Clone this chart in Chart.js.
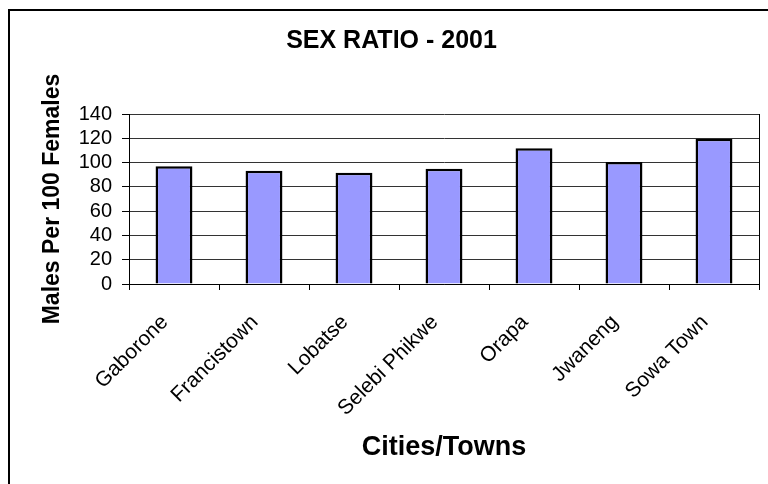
<!DOCTYPE html>
<html>
<head>
<meta charset="utf-8">
<script src="https://cdn.jsdelivr.net/npm/chart.js@4"></script>
<style>
  body { margin: 0; background: #fff; }
  #wrap { position: relative; width: 768px; height: 484px; overflow: hidden; }
  #frame { position: absolute; left: 8px; top: 9px; width: 800px; height: 500px;
           border-left: 2px solid #000; border-top: 2px solid #000; }
  canvas { position: absolute; left: 0; top: 0; }
</style>
</head>
<body>
<div id="wrap">
  <div id="frame"></div>
  <canvas id="grafico" width="768" height="484"></canvas>
</div>
<script>
// data
const cidades = ['Gaborone', 'Francistown', 'Lobatse', 'Selebi Phikwe', 'Orapa', 'Jwaneng', 'Sowa Town'];
const razao = [97, 93.3, 91.7, 95, 111.7, 100.5, 119.7];
const yTicks = [0, 20, 40, 60, 80, 100, 120, 140];

const fonte = 'Arial, "Liberation Sans", sans-serif';

const ctx = document.getElementById('grafico').getContext('2d');
const grafico = new Chart(ctx, {
    type: 'bar',
    data: {
        labels: cidades,
        datasets: [{
            label: 'Sex ratio',
            data: razao,
            backgroundColor: '#9999FF',
            borderColor: '#000',
            borderWidth: 2.5,
            categoryPercentage: 1,
            barPercentage: 0.41
        }]
    },
    options: {
        responsive: false,
        animation: false,
        // left padding shifts the title centre to match the original
        layout: { padding: { left: 24, right: 9, top: 0, bottom: 0 } },
        plugins: {
            legend: { display: false },
            tooltip: { enabled: false },
            title: {
                display: true,
                text: 'SEX RATIO - 2001',
                color: '#000',
                font: { family: fonte, size: 25, weight: 'bold', lineHeight: 1.2 },
                padding: { top: 26, bottom: 58 }
            }
        },
        scales: {
            x: {
                offset: true,
                grid: {
                    offset: true,
                    drawOnChartArea: true,
                    color: c => c.index === undefined ? '#000' : 'rgba(0,0,0,0)',
                    tickColor: '#000',
                    tickLength: 6
                },
                border: { color: '#000', width: 1 },
                ticks: {
                    color: '#000',
                    font: { family: fonte, size: 21 },
                    minRotation: 45,
                    maxRotation: 45,
                    autoSkip: false,
                    padding: 20,
                    labelOffset: -9
                },
                title: {
                    display: true,
                    text: 'Cities/Towns',
                    color: '#000',
                    font: { family: fonte, size: 27, weight: 'bold', lineHeight: 1.2 },
                    padding: { top: 0, bottom: 20 }
                },
                afterFit: s => { s.height = 200; }
            },
            y: {
                min: 0,
                max: 140,
                afterBuildTicks: s => { s.ticks = yTicks.map(v => ({ value: v })); },
                grid: { color: '#333', tickColor: '#000', tickLength: 7 },
                border: { color: '#000', width: 1 },
                ticks: {
                    color: '#000',
                    font: { family: fonte, size: 20, lineHeight: 1 },
                    autoSkip: false,
                    padding: 10
                },
                title: {
                    display: true,
                    text: 'Males Per 100 Females',
                    color: '#000',
                    font: { family: fonte, size: 23, weight: 'bold', lineHeight: 1.2 },
                    padding: { top: 15, bottom: 0 }
                },
                afterFit: s => { s.width = 105; }
            }
        }
    }
});
</script>
</body>
</html>
